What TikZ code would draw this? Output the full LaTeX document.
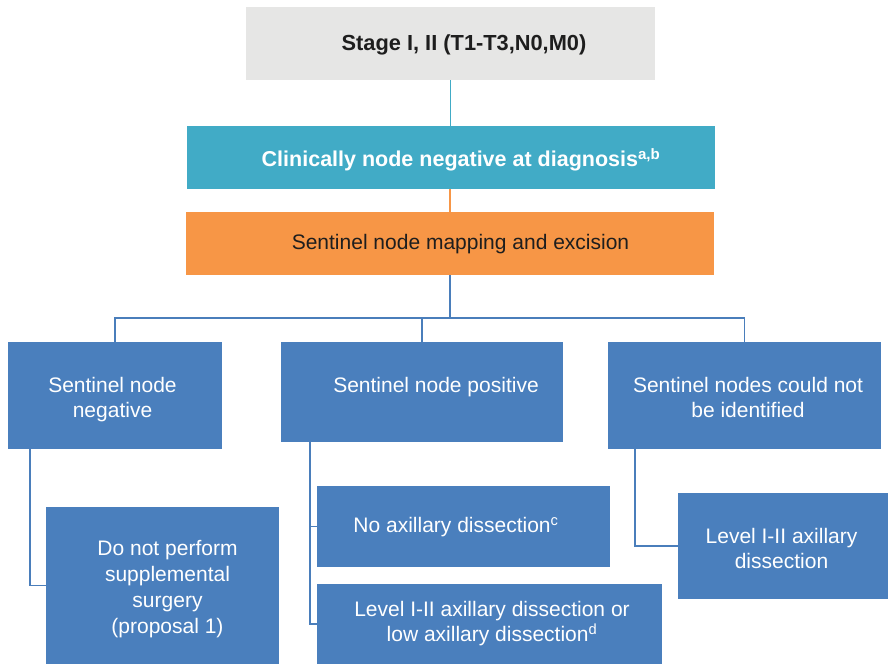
\documentclass[tikz,border=0pt]{standalone}
\usepackage{fontspec}
\setmainfont{Liberation Sans}
\definecolor{greybox}{HTML}{E6E6E5}
\definecolor{tealbox}{HTML}{41ABC6}
\definecolor{orangebox}{HTML}{F79646}
\definecolor{bluebox}{HTML}{4A7FBD}
\definecolor{lineblue}{HTML}{4A7EBB}
\definecolor{darktext}{HTML}{1E1E1E}
\tikzset{
  box/.style={draw=none, inner sep=0pt, outer sep=0pt},
  txt/.style={inner sep=0pt, align=center, font=\fontsize{21}{25.5}\selectfont},
  wtxt/.style={txt, text=white},
  conn/.style={draw=lineblue, line width=1.6pt},
}
\begin{document}
\begin{tikzpicture}[x=1pt,y=-1pt]
\useasboundingbox (0,0) rectangle (888,664);
% boxes
\node[box, fill=greybox, minimum width=409pt, minimum height=73pt] (top) at (450.5,43.5) {};
\node[box, fill=tealbox, minimum width=528pt, minimum height=63pt] (teal) at (451,157.5) {};
\node[box, fill=orangebox, minimum width=528pt, minimum height=63pt] (orange) at (450,243.5) {};
\node[box, fill=bluebox, minimum width=214pt, minimum height=107pt] (L) at (115,395.5) {};
\node[box, fill=bluebox, minimum width=282pt, minimum height=100pt] (M) at (422,392) {};
\node[box, fill=bluebox, minimum width=273pt, minimum height=107pt] (R) at (744.5,395.5) {};
\node[box, fill=bluebox, minimum width=233pt, minimum height=157pt] (LC) at (162.5,585.5) {};
\node[box, fill=bluebox, minimum width=293pt, minimum height=81pt] (MC1) at (463.5,526.5) {};
\node[box, fill=bluebox, minimum width=345pt, minimum height=80pt] (MC2) at (489.5,624) {};
\node[box, fill=bluebox, minimum width=210pt, minimum height=106pt] (RC) at (783,546) {};
% texts
\node[txt, text=darktext, font=\fontsize{21.8}{26}\selectfont\bfseries] (ttop) at (464,44.5) {Stage I, II (T1-T3,N0,M0)};
\node[txt, text=white, font=\fontsize{21.5}{26}\selectfont\bfseries] (tteal) at (461,160) {Clinically node negative at diagnosis\textsuperscript{a,b}};
\node[txt, text=darktext] (torange) at (460.5,244) {Sentinel node mapping and excision};
\node[wtxt] (tL) at (112.5,399.5) {Sentinel node\\negative};
\node[wtxt] (tM) at (436,387) {Sentinel node positive};
\node[wtxt] (tR) at (748,397.5) {Sentinel nodes could not\\be identified};
\node[wtxt, font=\fontsize{21}{26}\selectfont] (tLC) at (167.5,589) {Do not perform\\supplemental\\surgery\\(proposal 1)};
\node[wtxt] (tMC1) at (456,527) {No axillary dissection\textsuperscript{c}};
\node[wtxt] (tMC2) at (492,623.5) {Level I-II axillary dissection or\\low axillary dissection\textsuperscript{d}};
\node[wtxt] (tRC) at (781.5,548.5) {Level I-II axillary\\dissection};
% connectors
\draw[draw=tealbox, line width=1.6pt] (top.south) -- (top.south |- teal.north);
\draw[draw=orangebox, line width=1.6pt] (orange.north |- teal.south) -- (orange.north);
\coordinate (split) at (450,318);
\draw[conn, line width=2.2pt] (orange.south) -- (split);
\draw[conn] (L.north) |- (split) -| (R.north);
\draw[conn] (M.north) -- (M.north |- split);
\draw[conn] ([xshift=22pt]L.south west) |- (LC.west);
\draw[conn] ([xshift=29pt]M.south west) |- (MC1.west);
\draw[conn] ([xshift=29pt]M.south west) |- (MC2.west);
\draw[conn] ([xshift=27pt]R.south west) |- (RC.west);
\end{tikzpicture}
\end{document}
